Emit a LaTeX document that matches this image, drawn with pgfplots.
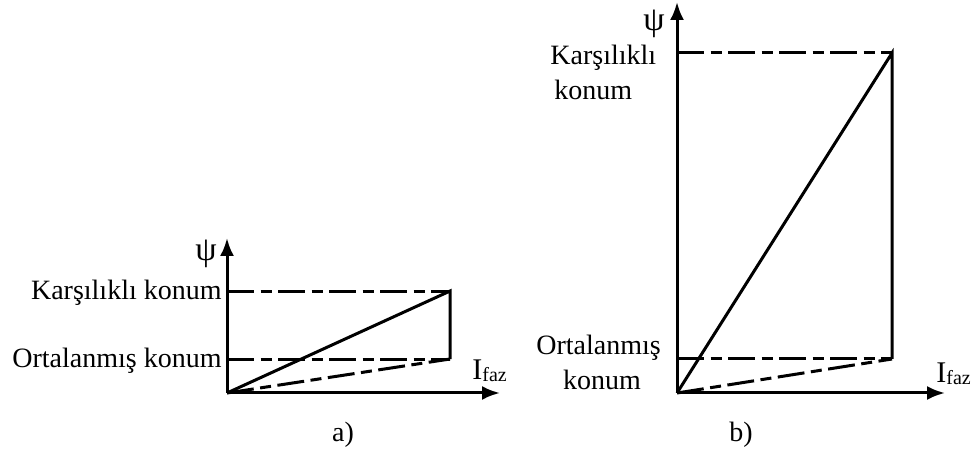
\documentclass[border=0pt]{standalone}
\usepackage{fontspec}
\setmainfont{Liberation Serif}
\usepackage{pgfplots}
\pgfplotsset{compat=1.18}
\usetikzlibrary{arrows.meta}

\pgfplotsset{
  fluxdiag/.style={
    scale only axis,
    axis lines=left,
    xmin=0, ymin=0,
    xtick=\empty, ytick=\empty,
    clip=false,
    anchor=origin,
    axis line style={line width=1.5pt, -{Latex[length=9pt,width=7pt]}},
  },
  solidline/.style={black, line width=1.5pt, line join=miter, mark=none},
  dashdotline/.style={black, line width=1.5pt, mark=none,
    dash pattern=on 13.5pt off 3.25pt on 5.5pt off 3.25pt},
}

\newcommand{\psilabel}{{\fontsize{17}{18}\selectfont ψ}}
\newcommand{\ifaz}{{\fontsize{15}{16}\selectfont I}\raisebox{-1pt}{\fontsize{10}{11}\selectfont faz}}

\begin{document}
\begin{tikzpicture}[font=\fontsize{14}{16}\selectfont]
\useasboundingbox (0,0) rectangle (488.5pt,229.5pt);

% a) low flux ratio
\begin{axis}[fluxdiag, at={(113.5pt,33pt)},
  width=136.5pt, height=77.5pt, xmax=1.224, ymax=4.56]
  \addplot[dashdotline] coordinates {(0,3) (1,3)};
  \addplot[dashdotline] coordinates {(0,1) (1,1)};
  \addplot[dashdotline] coordinates {(0,0) (1,1)};
  \addplot[solidline] coordinates {(0,0) (1,3) (1,1)};
  \node[anchor=base east, inner sep=0, xshift=-2.5pt, yshift=-4pt] at (axis cs:0,3) {Karşılıklı konum};
  \node[anchor=base east, inner sep=0, xshift=-2.5pt, yshift=-4pt] at (axis cs:0,1) {Ortalanmış konum};
  \node[inner sep=0, xshift=-10.5pt, yshift=-8pt] at (rel axis cs:0,1) {\psilabel};
\end{axis}
\node[anchor=base west, inner sep=0] at (236pt,39.5pt) {\ifaz};
\node[anchor=base, inner sep=0] at (171.5pt,9pt) {a)};

% b) high flux ratio
\begin{axis}[fluxdiag, at={(338.5pt,33pt)},
  width=134pt, height=195.5pt, xmax=1.2465, ymax=11.5]
  \addplot[dashdotline] coordinates {(0,10) (1,10)};
  \addplot[dashdotline] coordinates {(0,1) (1,1)};
  \addplot[dashdotline] coordinates {(0,0) (1,1)};
  \addplot[solidline] coordinates {(0,0) (1,10) (1,1)};
  \node[inner sep=0, xshift=-11.5pt, yshift=-11pt] at (rel axis cs:0,1) {\psilabel};
\end{axis}
\node[anchor=base west, inner sep=0] at (275pt,197pt) {Karşılıklı};
\node[anchor=base west, inner sep=0] at (277pt,179.5pt) {konum};
\node[anchor=base, inner sep=0] at (299.25pt,52pt) {Ortalanmış};
\node[anchor=base, inner sep=0] at (301pt,34.5pt) {konum};
\node[anchor=base west, inner sep=0] at (468pt,38pt) {\ifaz};
\node[anchor=base, inner sep=0] at (370.5pt,9pt) {b)};
\end{tikzpicture}
\end{document}
